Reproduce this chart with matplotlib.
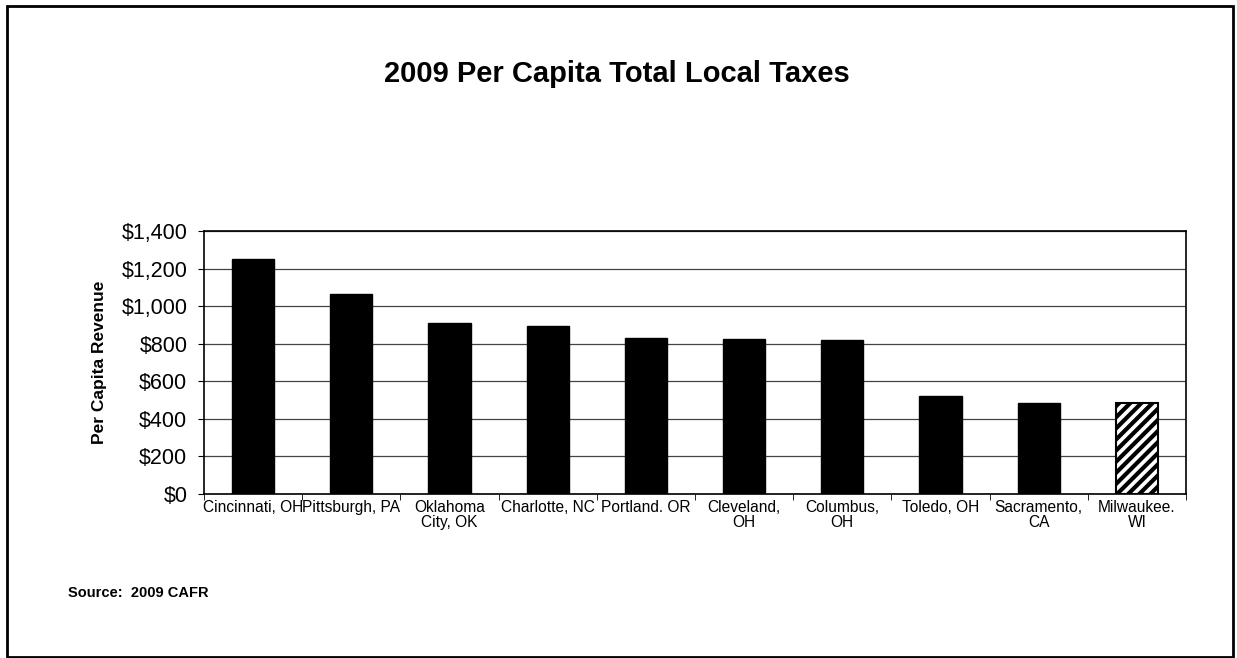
import numpy as np
import matplotlib.pyplot as plt
from matplotlib.patches import Rectangle

plt.rcParams['font.family'] = ['Liberation Sans', 'DejaVu Sans']
plt.rcParams['hatch.linewidth'] = 3.0

# Per capita local taxes by city, 2009
cities = ['Cincinnati, OH', 'Pittsburgh, PA', 'Oklahoma\nCity, OK', 'Charlotte, NC',
          'Portland. OR', 'Cleveland,\nOH', 'Columbus,\nOH', 'Toledo, OH',
          'Sacramento,\nCA', 'Milwaukee.\nWI']
revenue = [1250, 1065, 912, 892, 828, 827, 818, 522, 487, 482]
yticks = [0, 200, 400, 600, 800, 1000, 1200, 1400]

fig = plt.figure(figsize=(12.37, 6.58), dpi=100)
ax = fig.add_axes([204 / 1237, 1 - 494 / 658, (1186 - 204) / 1237, (494 - 231) / 658])

x = np.arange(len(cities))
bars = ax.bar(x, revenue, width=0.43, color='black', edgecolor='black', zorder=3)
# Milwaukee is highlighted with a hatched bar
bars[-1].set_facecolor('white')
bars[-1].set_hatch('///')
bars[-1].set_linewidth(1.5)

ax.set_xlim(-0.5, len(cities) - 0.5)
ax.set_ylim(0, 1400)
ax.set_yticks(yticks)
ax.set_yticklabels([f'${v:,}' for v in yticks], fontsize=15.5)
ax.set_xticks(x)
ax.set_xticklabels(cities, fontsize=11.2, linespacing=1.05)
ax.tick_params(axis='x', length=0, pad=4)
ax.tick_params(axis='y', length=4, direction='out', pad=8)
# small ticks between categories
ax.set_xticks(np.arange(len(cities) + 1) - 0.5, minor=True)
ax.tick_params(axis='x', which='minor', length=4, direction='out')

ax.yaxis.grid(True, color='#444444', linewidth=0.9, zorder=0)
for s in ax.spines.values():
    s.set_linewidth(1.2)

ax.set_ylabel('Per Capita Revenue', fontsize=12.5, fontweight='bold', labelpad=10)

fig.text(617 / 1237, 1 - 74 / 658, '2009 Per Capita Total Local Taxes', ha='center', va='center',
         fontsize=21, fontweight='bold')
fig.text(68 / 1237, 1 - 593 / 658, 'Source:  2009 CAFR', ha='left', va='center',
         fontsize=10.5, fontweight='bold')

# outer border around the chart area
fig.add_artist(Rectangle((7 / 1237, 1 / 658), (1233 - 7) / 1237, (652 - 1) / 658,
                         transform=fig.transFigure, fill=False, edgecolor='black', linewidth=2))

fig.savefig('out.png', dpi=100, facecolor='white')
